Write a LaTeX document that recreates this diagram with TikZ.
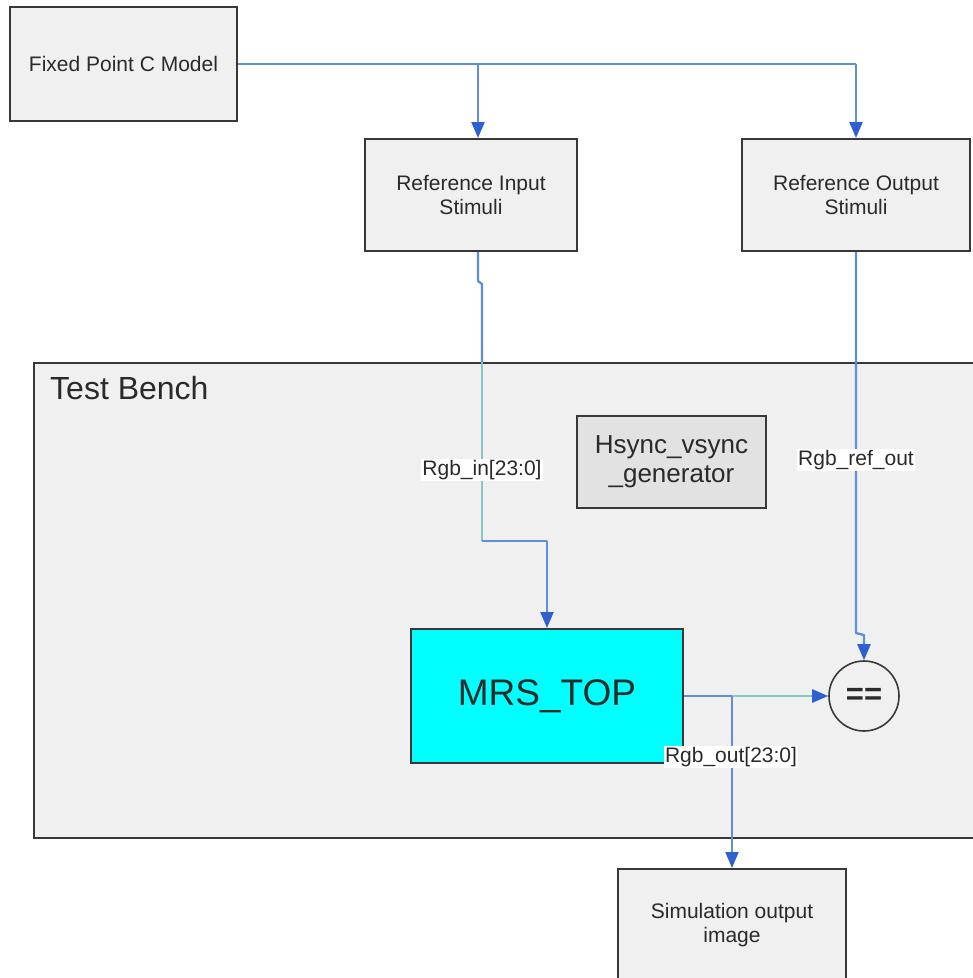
\documentclass[tikz,border=0pt]{standalone}
\usepackage{fontspec}
\setmainfont{Liberation Sans}
\usetikzlibrary{arrows.meta}
\definecolor{wireblue}{HTML}{5F8FDC}
\definecolor{tipblue}{HTML}{2F60D2}
\definecolor{wireteal}{HTML}{86C6C6}
\definecolor{boxfill}{HTML}{F0F0F0}
\definecolor{genfill}{HTML}{E2E2E2}
\definecolor{mrsfill}{HTML}{00FFFF}
\definecolor{edge}{HTML}{383838}
\definecolor{inktext}{HTML}{2A2A2A}
\begin{document}
\begin{tikzpicture}[x=1pt,y=-1pt,
  block/.style={draw=edge, line width=2pt, fill=boxfill, inner sep=0pt,
    align=center, text=inktext, font=\fontsize{21}{24}\selectfont},
  wire/.style={draw=wireblue, line width=2.3pt, line join=round},
  tealwire/.style={draw=wireteal, line width=2.6pt, line join=round},
  tip/.style={-{Triangle[length=16pt,width=13pt,color=tipblue]}},
  sig/.style={fill=white, inner sep=1.5pt, text=inktext,
    font=\fontsize{21}{24}\selectfont},
]
\clip (0,0) rectangle (973,978);
\fill[white] (0,0) rectangle (973,978);

% test bench enclosure (runs off the right edge)
\node[draw=edge, line width=2pt, fill=boxfill, inner sep=0pt,
      minimum width=980pt, minimum height=475pt, anchor=north west]
      (bench) at (33,362) {};
\node[anchor=base west, inner sep=0pt, text=inktext,
      font=\fontsize{32}{36}\selectfont] (benchlabel) at (50,399) {Test Bench};

% blocks
\node[block, minimum width=227pt, minimum height=114pt] (cmodel) at (123.5,64) {Fixed Point C Model};
\node[block, minimum width=212pt, minimum height=112pt] (refin) at (471,195) {Reference Input\\Stimuli};
\node[block, minimum width=228pt, minimum height=112pt] (refout) at (856,195) {Reference Output\\Stimuli};
\node[block, fill=genfill, minimum width=189pt, minimum height=92pt,
      font=\fontsize{26}{29}\selectfont] (hsync) at (671.5,462) {Hsync\_vsync\\\_generator};
\node[block, fill=mrsfill, minimum width=272pt, minimum height=134pt,
      font=\fontsize{37}{40}\selectfont] (mrs) at (547,696) {MRS\_TOP};
\node[draw=edge, line width=1.6pt, circle, fill=boxfill, minimum size=70pt, inner sep=0pt,
      text=inktext, font=\fontsize{31}{31}\selectfont] (eq) at (864,696) {\textbf{==}};
\node[block, minimum width=228pt, minimum height=112pt] (simout) at (732,925) {Simulation output\\image};

% routing points
\coordinate (topR) at (refout.north |- cmodel.east);
\coordinate (topL) at (478,64);
\coordinate (inA) at (478,281);
\coordinate (inB) at (482,284);
\coordinate (inC) at (482,362);
\coordinate (inD) at (482,541);
\coordinate (inE) at (547,541);
\coordinate (refA) at (856,633);
\coordinate (refB) at (864,635);
\coordinate (outA) at (732,696);

% Fixed Point C Model feeding both stimulus blocks
\draw[wire] (cmodel.east) -- (topR);
\draw[wire, tip] (topL) -- (topL |- refin.north);
\draw[wire, tip] (topR) -- (refout.north);

% input stimuli into MRS_TOP
\draw[wire] (topL |- refin.south) -- (inA) -- (inB) -- (inC);
\draw[tealwire] (inC) -- (inD);
\draw[wire, tip] (inD) -- (inE) -- (inE |- mrs.north);

% reference output into the comparator
\draw[wire, tip] (refout.south) -- (refA) -- (refB) -- (eq.north);

% MRS_TOP output to comparator and to the output image
\draw[wire] (mrs.east |- outA) -- (outA);
\draw[tealwire, tip] (outA) -- (eq.west);
\draw[wire, tip] (outA) -- (simout.north);

% signal labels
\node[sig] (lblin) at (482,470) {Rgb\_in[23:0]};
\node[sig] (lblref) at (856,460) {Rgb\_ref\_out};
\node[sig] (lblout) at (731,757) {Rgb\_out[23:0]};
\end{tikzpicture}
\end{document}
